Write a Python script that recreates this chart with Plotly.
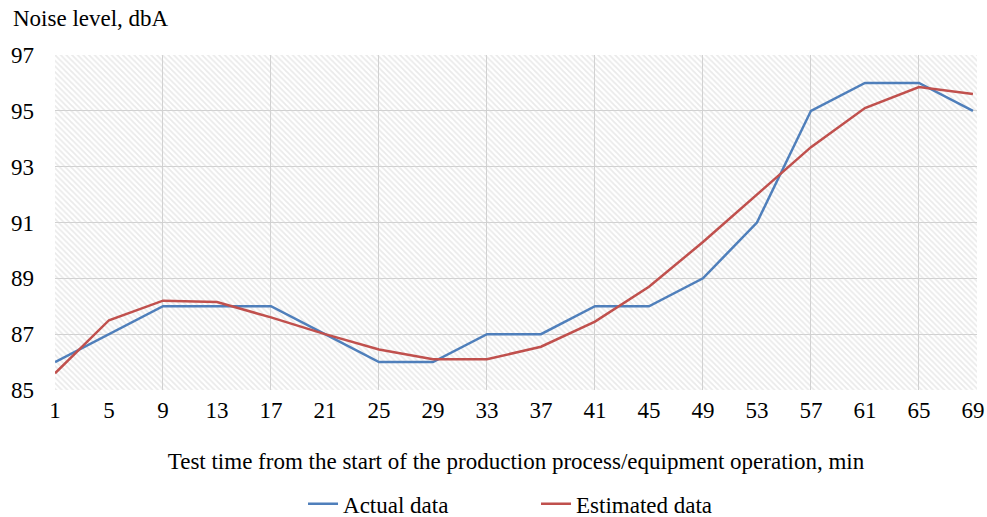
import plotly.graph_objects as go

minutes = [1, 5, 9, 13, 17, 21, 25, 29, 33, 37, 41, 45, 49, 53, 57, 61, 65, 69]
actual = [86, 87, 88, 88, 88, 87, 86, 86, 87, 87, 88, 88, 89, 91, 95, 96, 96, 95]
estimated = [85.6, 87.5, 88.2, 88.15, 87.6, 87.0, 86.45, 86.1, 86.1, 86.55, 87.45,
             88.7, 90.3, 92.0, 93.7, 95.1, 95.85, 95.6]
y_ticks = [85, 87, 89, 91, 93, 95, 97]

x_lo, x_hi = min(minutes), max(minutes) + 0.3
y_lo, y_hi = min(y_ticks), max(y_ticks)

FONT = "Liberation Serif, Times New Roman, serif"

fig = go.Figure()
# hatched plot-area background
fig.add_trace(go.Scatter(
    x=[x_lo, x_hi, x_hi, x_lo, x_lo], y=[y_lo, y_lo, y_hi, y_hi, y_lo],
    mode="lines", line=dict(width=0), fill="toself",
    fillcolor="rgba(0,0,0,0)",
    fillpattern=dict(shape="\\", fgcolor="#d6d6d6", bgcolor="rgba(255,255,255,0)",
                     size=4, solidity=0.45),
    hoverinfo="skip", showlegend=False))
fig.add_trace(go.Scatter(x=minutes, y=actual, mode="lines", name="Actual data",
                         line=dict(color="#4f7fbb", width=2.5)))
fig.add_trace(go.Scatter(x=minutes, y=estimated, mode="lines", name="Estimated data",
                         line=dict(color="#c0504d", width=2.5)))

fig.update_layout(
    width=987, height=517,
    margin=dict(l=55, r=10, t=55, b=127, autoexpand=False),
    paper_bgcolor="white", plot_bgcolor="white",
    font=dict(family=FONT, size=23, color="#000000"),
    showlegend=True,
    legend=dict(orientation="h", x=0.269, xanchor="left", y=-0.34, yanchor="middle",
                font=dict(size=23), entrywidth=188, itemwidth=30),
    annotations=[dict(text="Noise level, dbA", x=0, xref="paper", xanchor="left",
                      xshift=-44, y=1, yref="paper", yanchor="middle", yshift=37,
                      showarrow=False, font=dict(size=23))],
)
fig.update_xaxes(
    range=[x_lo, x_hi], tickvals=minutes, ticktext=[str(m) for m in minutes],
    showgrid=False, zeroline=False, showline=False, ticks="",
    ticklabelstandoff=4, automargin=False,
    minor=dict(tickmode="linear", tick0=min(minutes), dtick=8, showgrid=True,
               gridcolor="#d0d0d0", gridwidth=1, ticks=""),
    title=dict(text="Test time from the start of the production process/equipment operation, min",
               font=dict(size=23), standoff=30),
)
fig.update_yaxes(
    range=[y_lo, y_hi], tickvals=y_ticks, showgrid=True, gridcolor="#d0d0d0",
    gridwidth=1, zeroline=False, showline=False, ticks="", ticklabelstandoff=20,
    automargin=False,
)

fig.write_html("out.html", config={"displayModeBar": False},
               post_script="document.body.style.margin='0';"
                           "document.body.style.overflow='hidden';")
